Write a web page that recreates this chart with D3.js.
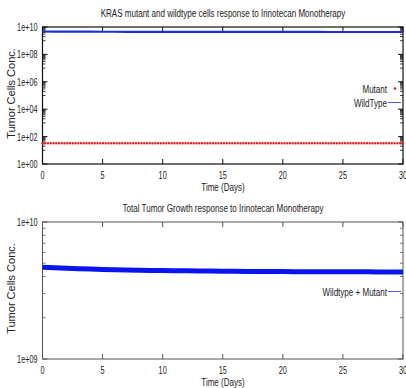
<!DOCTYPE html>
<html>
<head>
<meta charset="utf-8">
<script src="https://cdn.jsdelivr.net/npm/d3@7"></script>
<style>
  html, body { margin: 0; padding: 0; background: #fff; }
  svg { display: block; }
  text { font-family: "Liberation Sans", "DejaVu Sans", sans-serif; fill: #222; }
</style>
</head>
<body>
<svg id="chart" width="406" height="388"></svg>
<script>
// Days of treatment (daily samples)
const days = d3.range(0, 31);

// Mutant KRAS cell concentration (cells), per day
const mutant = [33, 33, 33, 33, 33, 33, 33, 33, 33, 33, 33, 33, 33, 33, 33, 33,
                33, 33, 33, 33, 33, 33, 33, 33, 33, 33, 33, 33, 33, 33, 33];

// Wildtype cell concentration (x 1e9 cells), per day
const wildtypeE9 = [4.68, 4.63, 4.59, 4.56, 4.53, 4.51, 4.49, 4.47, 4.45, 4.435, 4.42,
                    4.41, 4.40, 4.39, 4.38, 4.37, 4.365, 4.36, 4.355, 4.35, 4.345,
                    4.34, 4.34, 4.335, 4.33, 4.33, 4.325, 4.325, 4.32, 4.32, 4.32];

const xTicks = [0, 5, 10, 15, 20, 25, 30];
const topYTicks = [1e0, 1e2, 1e4, 1e6, 1e8, 1e10];
const bottomYTicks = [1e9, 1e10];

const titles = ["KRAS mutant and wildtype cells response to Irinotecan Monotherapy",
                "Total Tumor Growth response to Irinotecan Monotherapy"];
const xTitle = "Time (Days)";
const yTitle = "Tumor Cells Conc.";
const legendTop = ["Mutant", "WildType"];
const legendBottom = ["Wildtype + Mutant"];

const wildtype = wildtypeE9.map(v => v * 1e9);
const total = days.map((d, i) => wildtype[i] + mutant[i]);

const svg = d3.select("#chart");
const fmtExp = v => {
  const e = Math.round(Math.log10(v));
  return "1e+" + (e < 10 ? "0" + e : e);
};

// narrow text helper: the plot labels use a condensed face
function label(g, x, y, str, anchor, size, squeeze) {
  return g.append("text").attr("class", "cond").attr("x", x).attr("y", y)
    .attr("data-squeeze", squeeze || 0.73)
    .attr("text-anchor", anchor).attr("font-size", size).text(str);
}

function panel(g, opts) {
  const x = d3.scaleLinear().domain([0, 30]).range([opts.left, opts.right]);
  const y = d3.scaleLog().domain(opts.yDomain).range([opts.bottom, opts.top]);
  const tickColor = opts.border;

  label(g, 223, opts.top - 10, opts.title, "middle", 11);

  // x ticks (inward, mirrored on top)
  xTicks.forEach(t => {
    g.append("line").attr("x1", x(t)).attr("x2", x(t)).attr("y1", opts.bottom).attr("y2", opts.bottom - 5)
      .attr("stroke", tickColor).attr("stroke-width", 1);
    g.append("line").attr("x1", x(t)).attr("x2", x(t)).attr("y1", opts.top).attr("y2", opts.top + 5)
      .attr("stroke", tickColor).attr("stroke-width", 1);
    label(g, x(t), opts.bottom + 15, String(t), "middle", 11, 0.66);
  });

  // y major ticks + labels
  opts.yTicks.forEach(t => {
    [[opts.left, 5], [opts.right, -5]].forEach(([xx, d]) => {
      g.append("line").attr("x1", xx).attr("x2", xx + d).attr("y1", y(t)).attr("y2", y(t))
        .attr("stroke", tickColor).attr("stroke-width", 1);
    });
    label(g, opts.left - 5, y(t) + 4, fmtExp(t), "end", 11, 0.66);
  });

  // y minor ticks
  opts.minor.forEach(t => {
    [[opts.left, 3], [opts.right, -3]].forEach(([xx, d]) => {
      g.append("line").attr("x1", xx).attr("x2", xx + d).attr("y1", y(t)).attr("y2", y(t))
        .attr("stroke", tickColor).attr("stroke-width", 0.8);
    });
  });

  // border
  g.append("rect").attr("x", opts.left).attr("y", opts.top)
    .attr("width", opts.right - opts.left).attr("height", opts.bottom - opts.top)
    .attr("fill", "none").attr("stroke", opts.border).attr("stroke-width", opts.borderWidth);

  // axis titles
  label(g, 223, opts.bottom + 27, xTitle, "middle", 11);
  g.append("text")
    .attr("transform", `translate(15,${(opts.top + opts.bottom) / 2 - 2}) rotate(-90)`)
    .attr("text-anchor", "middle").attr("font-size", 11).text(yTitle);

  return { x, y };
}

// ---- Top panel: mutant vs wildtype ----
const topMinor = [];
[1e0, 1e2, 1e4, 1e6, 1e8].forEach(b => {
  for (let j = 1; j <= 9; j++) topMinor.push(b * 10 * j);
});
const gTop = svg.append("g");
const sTop = panel(gTop, {
  left: 42.5, right: 403, top: 27, bottom: 164,
  yDomain: [1, 1e10], yTicks: topYTicks, minor: topMinor,
  title: titles[0], border: "#111", borderWidth: 1.2
});

const lineTop = d3.line().x((d, i) => sTop.x(days[i])).y(d => sTop.y(d));

gTop.append("path").datum(wildtype).attr("d", lineTop)
  .attr("fill", "none").attr("stroke", "#1a2fd6").attr("stroke-width", 2.2);

gTop.append("path").datum(mutant).attr("d", lineTop)
  .attr("fill", "none").attr("stroke", "#f01818").attr("stroke-width", 2.4)
  .attr("stroke-linecap", "round").attr("stroke-dasharray", "0 2.75");

// legend
label(gTop, 387, 92.5, legendTop[0], "end", 11);
gTop.append("circle").attr("cx", 395).attr("cy", 88.5).attr("r", 1.3).attr("fill", "#f01818");
label(gTop, 387, 106.5, legendTop[1], "end", 11);
gTop.append("line").attr("x1", 388).attr("x2", 401).attr("y1", 102.5).attr("y2", 102.5)
  .attr("stroke", "#5a5ad0").attr("stroke-width", 1);

// ---- Bottom panel: total tumor ----
const botMinor = d3.range(2, 10).map(j => j * 1e9);
const gBot = svg.append("g");
const sBot = panel(gBot, {
  left: 42.5, right: 403, top: 222, bottom: 359,
  yDomain: [1e9, 1e10], yTicks: bottomYTicks, minor: botMinor,
  title: titles[1], border: "#555", borderWidth: 1
});

gBot.append("path").datum(total)
  .attr("d", d3.line().x((d, i) => sBot.x(days[i])).y(d => sBot.y(d)))
  .attr("fill", "none").attr("stroke", "#0a14ee").attr("stroke-width", 5);

label(gBot, 387, 295.5, legendBottom[0], "end", 11);
gBot.append("line").attr("x1", 388).attr("x2", 401).attr("y1", 291.5).attr("y2", 291.5)
  .attr("stroke", "#5a5ad0").attr("stroke-width", 1);

// condense the labels horizontally
svg.selectAll("text.cond").each(function () {
  const w = this.getComputedTextLength();
  const k = +this.getAttribute("data-squeeze");
  d3.select(this).attr("textLength", w * k).attr("lengthAdjust", "spacingAndGlyphs");
});
</script>
</body>
</html>
